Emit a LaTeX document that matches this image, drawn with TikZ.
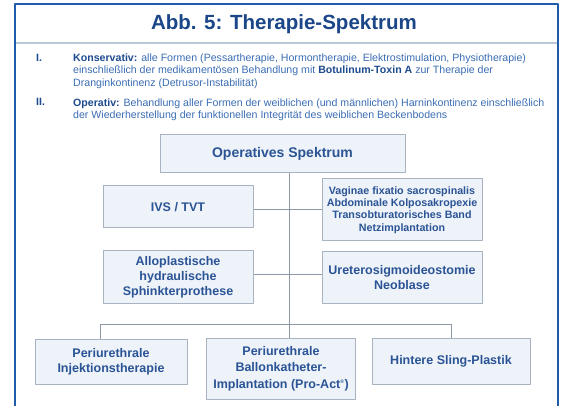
\documentclass[tikz,border=0pt]{standalone}
\usepackage{fontspec}
\setmainfont{Liberation Sans}
\usetikzlibrary{positioning}
\definecolor{rahmen}{HTML}{1E5BA8}
\definecolor{trenn}{HTML}{B9C7D9}
\definecolor{titel}{HTML}{1B4688}
\definecolor{fliess}{HTML}{3B6DB4}
\definecolor{fett}{HTML}{1E4B8F}
\definecolor{boxfill}{HTML}{EEF2F9}
\definecolor{kante}{HTML}{A8B3C2}
\definecolor{boxtext}{HTML}{2A5495}
\definecolor{linie}{HTML}{8D98A6}
\begin{document}
\begin{tikzpicture}[x=1pt,y=-1pt, line join=round,
	box/.style={draw=kante, fill=boxfill, line width=1pt, align=center, text=boxtext, inner sep=0pt,
		font=\fontsize{12.5}{15}\selectfont\bfseries},
	con/.style={draw=linie, line width=0.9pt},
	para/.style={anchor=north west, align=left, text=fliess, inner sep=0pt,
		font=\fontsize{10.6}{12.4}\selectfont},
	nummer/.style={anchor=base west, text=fett, inner sep=0pt,
		font=\fontsize{10.6}{12.4}\selectfont\bfseries}]
	\def\xl{15} \def\xr{558}
	\useasboundingbox[fill=white] (0,0) rectangle (565,406);
	\draw[trenn, line width=1.4pt] (\xl,43) -- (\xr,43);
	\draw[rahmen, line width=2.4pt] (\xl,415) -- (\xl,4) -- (\xr,4) -- (\xr,415);
	\node[anchor=base, text=titel, font=\fontsize{20.5}{24}\selectfont\bfseries, inner sep=0pt] (titel) at (284,30) {Abb. 5: Therapie-Spektrum};

	% baseline of the first line minus its height
	\node[nummer] (nr1) at (36,61.5) {I.};
	\node[para] (konservativ) at (73,53.7) {\textcolor{fett}{\bfseries Konservativ:} alle Formen (Pessartherapie, Hormontherapie, Elektrostimulation, Physiotherapie)\\
		einschließlich der medikamentösen Behandlung mit \textcolor{fett}{\bfseries Botulinum-Toxin A} zur Therapie der\\
		Dranginkontinenz (Detrusor-Instabilität)};
	\node[nummer] (nr2) at (36,106) {II.};
	\node[para] (operativ) at (73,98.2) {\textcolor{fett}{\bfseries Operativ:} Behandlung aller Formen der weiblichen (und männlichen) Harninkontinenz einschließlich\\
		der Wiederherstellung der funktionellen Integrität des weiblichen Beckenbodens};

	\node[box, minimum width=245pt, minimum height=38pt, font=\fontsize{14}{16}\selectfont\bfseries] (ops) at (282.5,154) {Operatives Spektrum};
	\node[box, minimum width=150pt, minimum height=42pt] (ivs) at (178,207) {IVS / TVT};
	\node[box, minimum width=160pt, minimum height=62pt, font=\fontsize{10.7}{12.3}\selectfont\bfseries] (vag) at (402,210) {Vaginae fixatio sacrospinalis\\Abdominale Kolposakropexie\\Transobturatorisches Band\\Netzimplantation};
	\node[box, minimum width=150pt, minimum height=52pt] (allo) at (178,277) {Alloplastische\\hydraulische\\Sphinkterprothese};
	\node[box, minimum width=160pt, minimum height=51pt] (uret) at (402,277.5) {Ureterosigmoideostomie\\Neoblase};
	\node[box, minimum width=152pt, minimum height=45pt] (inj) at (111,362) {Periurethrale\\Injektionstherapie};
	\node[box, minimum width=149pt, minimum height=61pt, font=\fontsize{12.5}{16.3}\selectfont\bfseries] (ballon) at (281,368.5) {Periurethrale\\Ballonkatheter-\\Implantation (Pro-Act\textsuperscript{\tiny ®})};
	\node[box, minimum width=158pt, minimum height=46pt] (sling) at (451,361) {Hintere Sling-Plastik};

	\coordinate (bus) at (289.5,324);
	\draw[con] (ops.south -| bus) -- (ballon.north -| bus);
	\draw[con] (ivs.east |- 0,209) -- (vag.west |- 0,209);
	\draw[con] (allo.east |- 0,274) -- (uret.west |- 0,274);
	\draw[con] (inj.north -| 100,0) -- (100,324) -- (sling.north |- bus) -- (sling.north);
\end{tikzpicture}
\end{document}
